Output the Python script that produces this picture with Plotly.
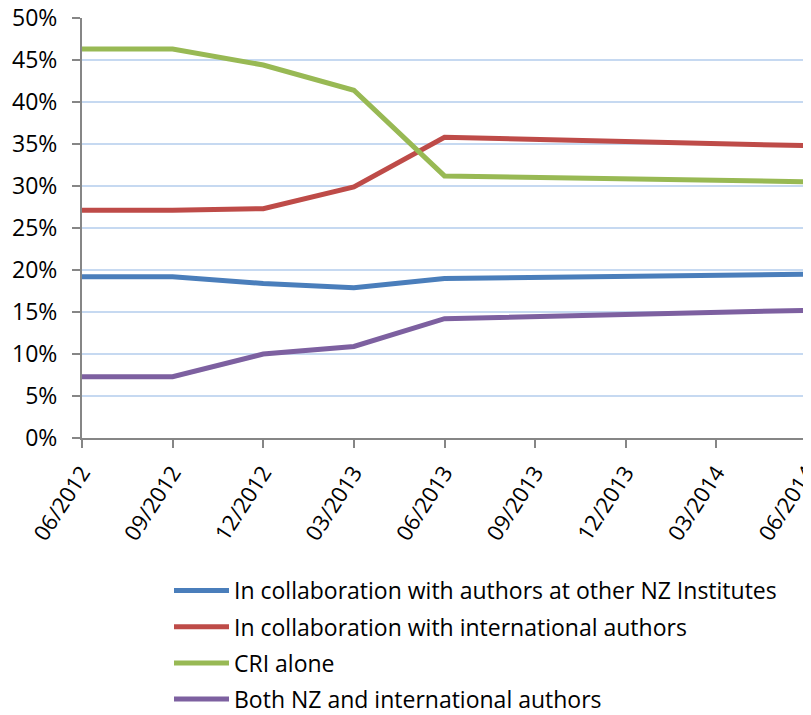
import plotly.graph_objects as go

dates = ["06/2012", "09/2012", "12/2012", "03/2013", "06/2013",
         "09/2013", "12/2013", "03/2014", "06/2014"]

nz_institutes = [19.2, 19.2, 18.4, 17.9, 19.0, None, None, None, 19.5]
international = [27.1, 27.1, 27.3, 29.9, 35.8, None, None, None, 34.8]
cri_alone = [46.3, 46.3, 44.4, 41.4, 31.2, None, None, None, 30.5]
both = [7.3, 7.3, 10.0, 10.9, 14.2, None, None, None, 15.2]

names = ["In collaboration with authors at other NZ Institutes",
         "In collaboration with international authors",
         "CRI alone",
         "Both NZ and international authors"]
colors = ["#4a7ebb", "#be4b48", "#98b954", "#7d60a0"]
series = [nz_institutes, international, cri_alone, both]

FONT = "Open Sans, Lato, sans-serif"
FS = 23

fig = go.Figure()
for i, (name, vals, col) in enumerate(zip(names, series, colors)):
    fig.add_trace(go.Scatter(
        x=dates, y=vals, name=name, mode="lines",
        connectgaps=True, legendgroup=f"g{i}",
        line=dict(color=col, width=5),
    ))

fig.update_layout(
    width=803, height=707,
    margin=dict(l=74, r=4, t=10, b=277, autoexpand=False),
    paper_bgcolor="white", plot_bgcolor="white",
    font=dict(family=FONT, size=FS, color="#000000"),
    showlegend=True,
    legend=dict(
        x=0.12, y=-0.312, xanchor="left", yanchor="top",
        font=dict(family=FONT, size=FS, color="#000000"),
        bgcolor="rgba(0,0,0,0)", tracegroupgap=3.3,
        itemwidth=55,
    ),
)
fig.update_xaxes(
    type="category", range=[0, 8],
    showgrid=False, showline=True, linecolor="#868686", linewidth=2,
    ticks="outside", ticklen=8, tickcolor="#868686", tickwidth=2,
    tickangle=-57, tickfont=dict(family=FONT, size=22),
    ticklabeloverflow="allow", ticklabelstandoff=3,
)
fig.update_yaxes(
    range=[0, 50], dtick=5, ticksuffix="%",
    showgrid=True, gridcolor="#c6d9f1", gridwidth=1.5,
    zeroline=False,
    showline=True, linecolor="#868686", linewidth=2,
    ticks="outside", ticklen=8, tickcolor="#868686", tickwidth=2,
    ticklabelstandoff=10, ticklabeloverflow="allow",
    tickfont=dict(family=FONT, size=FS),
)

fig.write_html("out.html")
